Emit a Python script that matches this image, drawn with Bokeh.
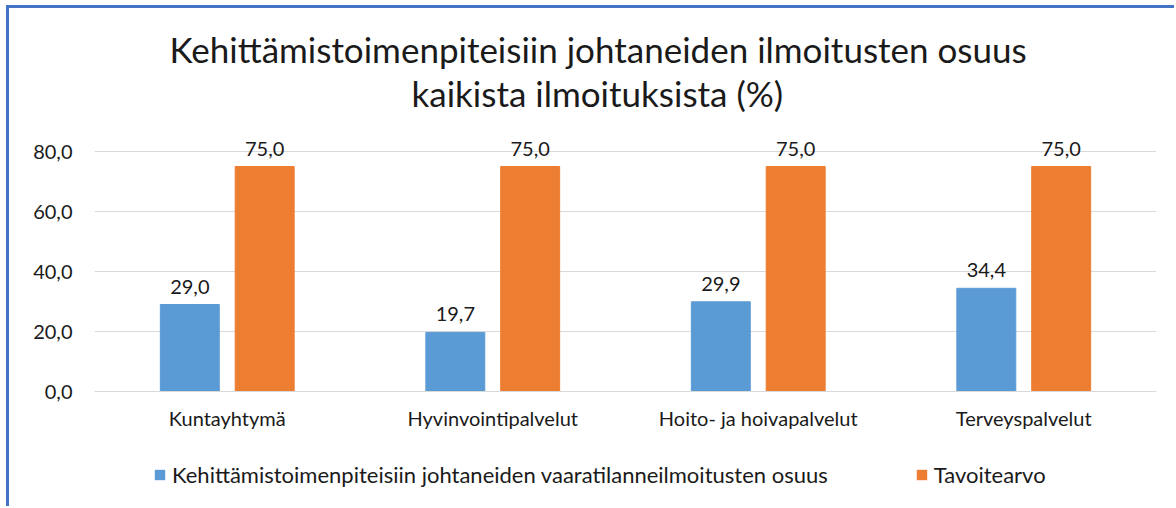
from bokeh.plotting import figure
from bokeh.layouts import column
from bokeh.models import (ColumnDataSource, FactorRange, Range1d, FixedTicker,
                          Legend, LegendItem, Title)
from bokeh.transform import dodge
from bokeh.core.properties import value
from bokeh.embed import file_html
from bokeh.resources import INLINE

# ---- data ----
categories = ["Kuntayhtymä", "Hyvinvointipalvelut", "Hoito- ja hoivapalvelut", "Terveyspalvelut"]
osuus = [29.0, 19.7, 29.9, 34.4]
tavoite = [75.0, 75.0, 75.0, 75.0]
series_names = ["Kehittämistoimenpiteisiin johtaneiden vaaratilanneilmoitusten osuus", "Tavoitearvo"]
y_ticks = [0, 20, 40, 60, 80]
y_tick_labels = ["0,0", "20,0", "40,0", "60,0", "80,0"]
title_lines = ["Kehittämistoimenpiteisiin johtaneiden ilmoitusten osuus",
               "kaikista ilmoituksista (%)"]

FONT = "Lato"
TXT = "#1a1a1a"
BLUE = "#5B9BD5"
ORANGE = "#ED7D31"
GRID = "#D9D9D9"


def fmt(v):
    return f"{v:.1f}".replace(".", ",")


src = ColumnDataSource(dict(
    cat=categories,
    osuus=osuus,
    tavoite=tavoite,
    osuus_lbl=[fmt(v) for v in osuus],
    tavoite_lbl=[fmt(v) for v in tavoite],
))

xr = FactorRange(factors=categories, range_padding=0)
p = figure(x_range=xr, y_range=Range1d(0, 88),
           frame_width=1062, frame_height=264, title=None,
           output_backend="svg", toolbar_location=None,
           min_border_left=85, min_border_right=18,
           min_border_top=119, min_border_bottom=45)
p.outline_line_color = None
p.background_fill_color = "white"
p.border_fill_color = "white"

off = 0.141
bw = 0.222
bar_kw = dict(width=bw, source=src)
r1 = p.vbar(x=dodge("cat", -off, range=xr), top="osuus", fill_color=BLUE, line_color=BLUE, **bar_kw)
r2 = p.vbar(x=dodge("cat", off, range=xr), top="tavoite", fill_color=ORANGE, line_color=ORANGE, **bar_kw)

p.text(x=dodge("cat", -off, range=xr), y="osuus", text="osuus_lbl", source=src,
       text_align="center", text_baseline="alphabetic", y_offset=-18,
       text_font=value(FONT), text_font_size="20px", text_color=TXT)
p.text(x=dodge("cat", off, range=xr), y="tavoite", text="tavoite_lbl", source=src,
       text_align="center", text_baseline="alphabetic", y_offset=-18,
       text_font=value(FONT), text_font_size="20px", text_color=TXT)

# axes
p.yaxis.ticker = FixedTicker(ticks=y_ticks)
p.yaxis.major_label_overrides = {t: l for t, l in zip(y_ticks, y_tick_labels)}
p.yaxis.axis_line_color = None
p.yaxis.major_tick_line_color = None
p.yaxis.minor_tick_line_color = None
p.yaxis.major_tick_out = 0
p.yaxis.major_label_standoff = 22
p.yaxis.major_label_text_font = FONT
p.yaxis.major_label_text_font_size = "20px"
p.yaxis.major_label_text_color = TXT

p.xaxis.axis_line_color = GRID
p.xaxis.axis_line_width = 1
p.xaxis.major_tick_line_color = None
p.xaxis.major_tick_out = 0
p.xaxis.major_label_standoff = 14
p.xaxis.major_label_text_font = FONT
p.xaxis.major_label_text_font_size = "20px"
p.xaxis.major_label_text_color = TXT

p.xgrid.grid_line_color = None
p.ygrid.grid_line_color = GRID
p.ygrid.grid_line_width = 1

# title (two lines)
p.add_layout(Title(text=title_lines[1], align="left", offset=317, standoff=28,
                   text_font=FONT, text_font_size="35px", text_font_style="normal",
                   text_color=TXT), "above")
p.add_layout(Title(text=title_lines[0], align="left", offset=75, standoff=-28,
                   text_font=FONT, text_font_size="35px", text_font_style="normal",
                   text_color=TXT), "above")

# legend strip below the chart: same series, drawn outside its (empty) view
pl = figure(width=1165, height=70, x_range=xr, y_range=Range1d(1000, 1001),
            output_backend="svg", toolbar_location=None, title=None,
            x_axis_location=None, y_axis_location=None,
            min_border_left=0, min_border_right=0, min_border_top=0, min_border_bottom=0)
pl.outline_line_color = None
pl.grid.visible = False
l1 = pl.vbar(x=dodge("cat", -off, range=xr), top="osuus", fill_color=BLUE, line_color=None, **bar_kw)
l2 = pl.vbar(x=dodge("cat", off, range=xr), top="tavoite", fill_color=ORANGE, line_color=None, **bar_kw)
legend = Legend(items=[LegendItem(label=series_names[0], renderers=[l1]),
                       LegendItem(label=series_names[1], renderers=[l2])],
                orientation="horizontal", location=(59, 18),
                glyph_width=13, glyph_height=13, label_standoff=6, spacing=87,
                padding=0, margin=0, label_height=24,
                border_line_color=None, background_fill_alpha=0,
                label_text_font=FONT, label_text_font_size="22px", label_text_color=TXT)
pl.add_layout(legend)

layout = column(p, pl, spacing=0)
layout.styles = {"border-top": "3px solid #4472C4", "border-left": "3px solid #4472C4",
                 "margin-top": "5px", "margin-left": "6px"}

open("out.html", "w").write(file_html(layout, INLINE))
